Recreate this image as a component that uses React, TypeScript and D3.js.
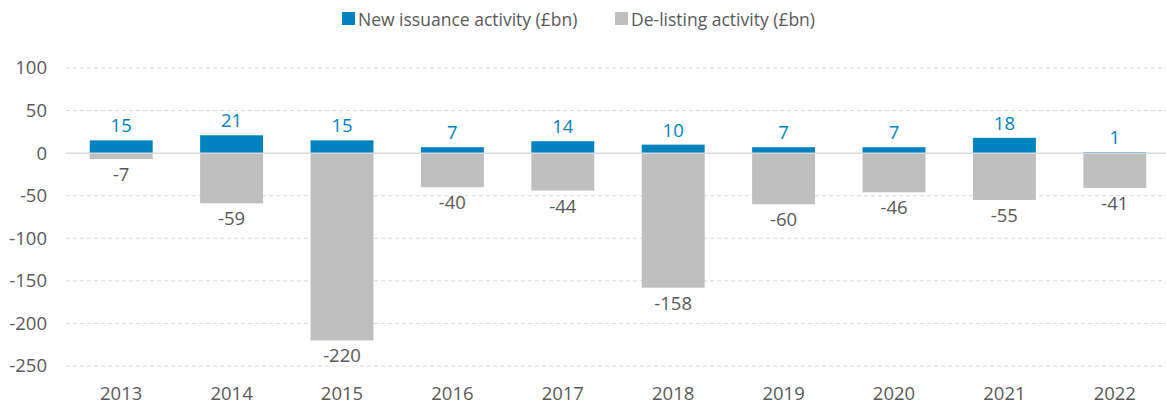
import React from 'react'
import * as d3 from 'd3'

const years = ['2013', '2014', '2015', '2016', '2017', '2018', '2019', '2020', '2021', '2022']
const issuance = [15, 21, 15, 7, 14, 10, 7, 7, 18, 1]
const delisting = [-7, -59, -220, -40, -44, -158, -60, -46, -55, -41]
const yTicks = [100, 50, 0, -50, -100, -150, -200, -250]

const BLUE = '#0083BE'
const GREY = '#BFBFBF'
const TEXT = '#595959'
const FONT = '"Open Sans", sans-serif'
const FS = 18.5

export default function App() {
  const width = 1166
  const height = 406
  const x = d3.scaleBand().domain(years).range([66, 1170]).paddingInner(0.43).paddingOuter(0.215)
  const y = d3.scaleLinear().domain([-250, 100]).range([366, 68])
  const bw = x.bandwidth()

  return (
    <svg width={width} height={height} style={{ position: 'absolute', left: 0, top: 0, fontFamily: FONT }}>
      <rect width={width} height={height} fill="#fff" />
      {/* legend */}
      <g>
        <rect x={342} y={12} width={13} height={13} fill={BLUE} />
        <text x={358} y={26} fontSize={17.5} fill={TEXT}>New issuance activity (£bn)</text>
        <rect x={615} y={12} width={13} height={13} fill={GREY} />
        <text x={631} y={26} fontSize={17.5} fill={TEXT}>De-listing activity (£bn)</text>
      </g>
      {/* grid */}
      {yTicks.map(t => (
        <g key={t}>
          {t !== 0 && (
            <line x1={66} x2={1166} y1={y(t)} y2={y(t)} stroke="#D9D9D9" strokeDasharray="4,3" />
          )}
          <text x={47} y={y(t)} dy="0.35em" textAnchor="end" fontSize={FS} fill={TEXT}>{t}</text>
        </g>
      ))}
      {/* bars */}
      {years.map((yr, i) => (
        <g key={yr}>
          <rect x={x(yr)} y={y(issuance[i])} width={bw} height={y(0) - y(issuance[i])} fill={BLUE} />
          <rect x={x(yr)} y={y(0)} width={bw} height={y(delisting[i]) - y(0)} fill={GREY} />
          <text x={(x(yr) || 0) + bw / 2} y={y(issuance[i]) - 8} textAnchor="middle" fontSize={FS} fill={BLUE}>{issuance[i]}</text>
          <text x={(x(yr) || 0) + bw / 2} y={y(delisting[i]) + 22} textAnchor="middle" fontSize={FS} fill={TEXT}>{delisting[i]}</text>
          <text x={(x(yr) || 0) + bw / 2} y={400} textAnchor="middle" fontSize={FS} fill={TEXT}>{yr}</text>
        </g>
      ))}
      <line x1={66} x2={1166} y1={y(0)} y2={y(0)} stroke="#D9D9D9" strokeWidth={1.5} />
    </svg>
  )
}
